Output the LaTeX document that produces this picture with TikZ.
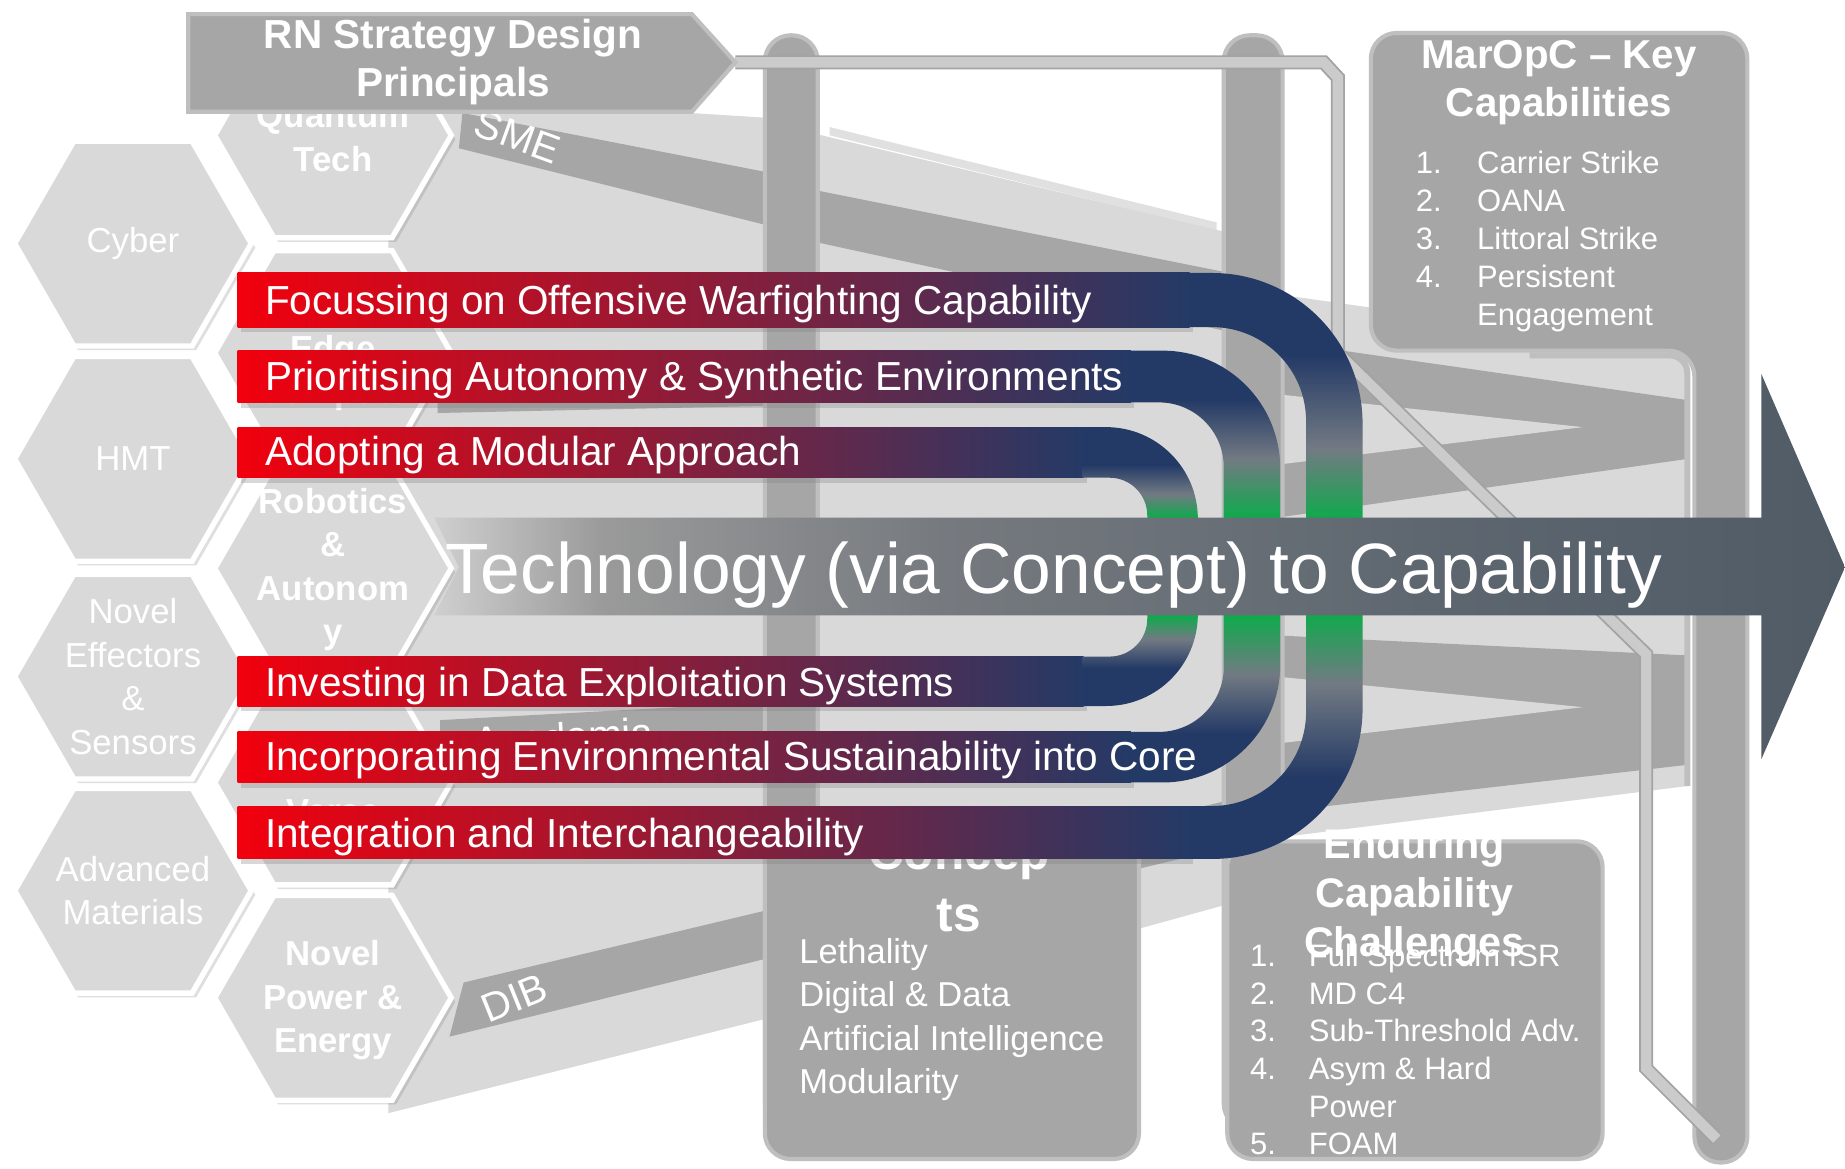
\documentclass[tikz,border=0pt]{standalone}
\usepackage{fontspec}
\setmainfont{Liberation Sans}
\usetikzlibrary{shapes.geometric,shadows}

\definecolor{hexgray}{HTML}{D9D9D9}
\definecolor{funnellight}{HTML}{D9D9D9}
\definecolor{funneldark}{HTML}{A6A6A6}
\definecolor{boxgray}{HTML}{A6A6A6}
\definecolor{boxedge}{HTML}{BFBFBF}
\definecolor{linegray}{HTML}{CBCBCB}
\definecolor{lineedge}{HTML}{A3A3A3}
\definecolor{bandred}{HTML}{F2000D}
\definecolor{bandcrimson}{HTML}{9A1A30}
\definecolor{bandnavy}{HTML}{243A66}
\definecolor{bandslate}{HTML}{727A83}
\definecolor{bandgreen}{HTML}{0FAA4C}
\definecolor{arrowlight}{HTML}{CFCFCF}
\definecolor{arrowmid}{HTML}{9A9A9A}
\definecolor{arrowgrey}{HTML}{767A7F}
\definecolor{arrowslate}{HTML}{5E6770}
\definecolor{arrowdark}{HTML}{505B66}

% colour runs of the three loops (navy - slate - green - slate - navy)
\pgfdeclareverticalshading{outerloop}{100bp}{color(0bp)=(bandnavy); color(25bp)=(bandnavy); color(32bp)=(bandnavy); color(40bp)=(bandslate); color(46bp)=(bandgreen); color(54bp)=(bandgreen); color(60bp)=(bandslate); color(68bp)=(bandnavy); color(75bp)=(bandnavy); color(100bp)=(bandnavy)}
\pgfdeclareverticalshading{midloop}{100bp}{color(0bp)=(bandnavy); color(25bp)=(bandnavy); color(30.7bp)=(bandnavy); color(37.5bp)=(bandslate); color(44.3bp)=(bandgreen); color(55.7bp)=(bandgreen); color(62.5bp)=(bandslate); color(69.3bp)=(bandnavy); color(75bp)=(bandnavy); color(100bp)=(bandnavy)}
\pgfdeclareverticalshading{innerloop}{100bp}{color(0bp)=(bandnavy); color(25bp)=(bandnavy); color(31.8bp)=(bandnavy); color(37bp)=(bandslate); color(41.2bp)=(bandgreen); color(58.8bp)=(bandgreen); color(63bp)=(bandslate); color(68.2bp)=(bandnavy); color(75bp)=(bandnavy); color(100bp)=(bandnavy)}
\pgfdeclarehorizontalshading{techarrow}{100bp}{color(0bp)=(arrowlight); color(25bp)=(arrowlight); color(31bp)=(arrowmid); color(43bp)=(arrowgrey); color(60bp)=(arrowslate); color(75bp)=(arrowdark); color(100bp)=(arrowdark)}

\tikzset{
  hexcell/.style={regular polygon, regular polygon sides=6, minimum size=4.02cm, inner sep=0pt,
    fill=hexgray, draw=white, line width=2.6pt,
    drop shadow={opacity=0.25, shadow xshift=2pt, shadow yshift=-2pt}},
  hexlabel/.style={text=white, align=center, font=\fontsize{16.8}{21}\selectfont},
  hexlabelb/.style={hexlabel, font=\fontsize{16.8}{21}\selectfont\bfseries},
  greybox/.style={fill=boxgray, draw=boxedge, line width=2pt, rounded corners=0.44cm},
  streamlabel/.style={text=white, font=\fontsize{19.5}{23}\selectfont},
  boxtitle/.style={text=white, align=center, font=\fontsize{19.5}{23.3}\selectfont\bfseries},
  listitem/.style={text=white, anchor=base west, inner sep=0pt, font=\fontsize{15}{18}\selectfont},
  conceptitem/.style={listitem, font=\fontsize{16.7}{20}\selectfont},
  bandlabel/.style={text=white, anchor=base west, inner sep=0pt, font=\fontsize{19.6}{23}\selectfont},
  bandshadow/.style={drop shadow={opacity=0.3, shadow xshift=1.5pt, shadow yshift=-2.5pt}},
  linkline/.style={draw=lineedge, line width=0.9pt, double=linegray, double distance=5pt}
}

\begin{document}
\begin{tikzpicture}[x=0.02cm, y=-0.02cm]
\useasboundingbox (0,0) rectangle (1568,993);
\fill[white] (0,0) rectangle (1568,993);

% funnel of streams
\fill[funnellight] (330,80) -- (650,100) -- (650,866) -- (330,946) -- cycle;
\fill[black!12] (705,108) -- (1034,189) -- (1034,196) -- (705,115) -- cycle;
\fill[funnellight] (690,113) -- (1045,198) -- (1045,768) -- (690,866) -- cycle;
\fill[funnellight] (1085,250) -- (1434,300) -- (1434,668) -- (1085,712) -- cycle;
\fill[funneldark] (393,96) -- (650,146) -- (650,191) -- (390,126) -- cycle;
\fill[funneldark] (372,342) -- (650,342) -- (650,345) -- (372,351) -- cycle;
\fill[funneldark] (374,612) -- (650,597) -- (650,622) -- (374,640) -- cycle;
\fill[funneldark] (394,835) -- (650,774) -- (650,815) -- (382,881) -- cycle;
\fill[funneldark] (690,161) -- (1045,232) -- (1045,282) -- (690,205) -- cycle;
\fill[funneldark] (690,763) -- (1045,680) -- (1045,720) -- (690,804) -- cycle;
\fill[funneldark] (1085,290) -- (1434,340) -- (1434,390) -- (1085,440) -- cycle;
\fill[funnellight] (1085,335) -- (1345,363) -- (1085,395) -- cycle;
\fill[funneldark] (1085,540) -- (1434,557) -- (1434,650) -- (1085,690) -- cycle;
\fill[funnellight] (1085,575) -- (1345,601) -- (1085,632) -- cycle;
\draw[boxedge, line width=3pt, rounded corners=0.3cm] (1300,302) -- (1434,302) -- (1434,668);

\node[streamlabel, rotate=-20] (sme) at (440,116) {SME};
\node[streamlabel, rotate=3] (acad) at (479,626) {Academia};
\node[streamlabel, rotate=22] (dib) at (437,848) {DIB};

% pillars
\draw[greybox] (650,30) rectangle (695,960);
\draw[greybox] (1040,30) rectangle (1090,960);
\draw[greybox] (1165,28) -- (1485,28) -- (1485,988) -- (1440,988) -- (1440,298) -- (1165,298) -- cycle;

\node[boxtitle] (mo-title) at (1325,70) {MarOpC -- Key\\Capabilities};
\foreach \txt [count=\i] in {Carrier Strike, OANA, Littoral Strike, Persistent, Engagement}
  \node[listitem] (mo-\i) at (1255,{147.5+32.2*(\i-1)}) {\txt};
\foreach \i in {1,...,4}
  \node[listitem] (mo-n\i) at (1203,{147.5+32.2*(\i-1)}) {\i.};

% link from the principles to the capabilities
\coordinate (hdr-tip) at (625,53);
\coordinate (cap-foot) at (1459,968);
\draw[linkline] (hdr-tip) -- (1125,53) -- (1137,66) -- (1137,300) -- (1399,556) -- (1399,908) -- (cap-foot);

% technology hexagons
\node[hexcell] (cyber) at (113,207) {};
\node[hexcell] (hmt) at (113,390) {};
\node[hexcell] (nes) at (113,575) {};
\node[hexcell] (advmat) at (113,757) {};
\node[hexcell] (quantum) at (283,115) {};
\node[hexcell] (edge) at (283,300) {};
\node[hexcell] (robot) at (283,483) {};
\node[hexcell] (verse) at (283,665) {};
\node[hexcell] (power) at (283,848) {};

\node[hexlabel] (cyber-t) at (cyber) {Cyber};
\node[hexlabel] (hmt-t) at (hmt) {HMT};
\node[hexlabel] (nes-t) at (nes) {Novel\\Effectors\\\&\\Sensors};
\node[hexlabel] (advmat-t) at (advmat) {Advanced\\Materials};
\node[hexlabelb] (quantum-t) at (283,117) {Quantum\\Tech};
\node[hexlabelb] (edge-t) at (283,317) {Edge\\Compute};
\node[hexlabelb] (robot-t) at (283,484) {Robotics\\\&\\Autonom\\y};
\node[hexlabelb] (verse-t) at (283,690) {Verse};
\node[hexlabelb] (power-t) at (283,850) {Novel\\Power \&\\Energy};

% principles header
\draw[fill=boxgray, draw=boxedge, line width=2pt] (160,12) -- (588,12) -- (hdr-tip) -- (588,95) -- (160,95) -- cycle;
\node[boxtitle, font=\fontsize{19.6}{23.3}\selectfont\bfseries] (hdr) at (385,53) {RN Strategy Design\\Principals};

% concept and challenge boxes
\draw[greybox] (650,700) rectangle (968,985);
\node[boxtitle, font=\fontsize{24}{30}\selectfont\bfseries] (cc-title) at (815,751) {Concep\\ts};
\foreach \txt [count=\i] in {Lethality, Digital \& Data, Artificial Intelligence, Modularity}
  \node[conceptitem] (cc-\i) at (679,{818.5+37*(\i-1)}) {\txt};

\draw[greybox] (1043,715) rectangle (1362,985);

% design principle loops
\foreach \ya/\yb/\yc/\yd/\xo/\xi/\ro/\ri/\xj/\shd in
  {363/406/558/600/1018/975/1.56cm/0.64cm/920/innerloop,
   298/342/622/665/1088/1040/2.0cm/1.1cm/960/midloop,
   232/278/685/730/1158/1110/2.56cm/1.6cm/1010/outerloop}{
  \shade[left color=bandred, middle color=bandcrimson, right color=bandnavy, bandshadow] (202,\ya) rectangle ({\xj+1},\yb);
  \shade[left color=bandred, middle color=bandcrimson, right color=bandnavy, bandshadow] (202,\yc) rectangle ({\xj+1},\yd);
  \begin{scope}
    \clip (\xj,0) rectangle (1568,993);
    \shade[shading=\shd, even odd rule, rounded corners=\ro] ({\xj-300},\ya) rectangle (\xo,\yd)
      [rounded corners=\ri] ({\xj-300},\yb) rectangle (\xi,\yc);
  \end{scope}
}

\node[bandlabel] (p1) at (225,267) {Focussing on Offensive Warfighting Capability};
\node[bandlabel] (p2) at (225,332) {Prioritising Autonomy \& Synthetic Environments};
\node[bandlabel] (p3) at (225,396) {Adopting a Modular Approach};
\node[bandlabel] (p4) at (225,592) {Investing in Data Exploitation Systems};
\node[bandlabel] (p5) at (225,655) {Incorporating Environmental Sustainability into Core};
\node[bandlabel] (p6) at (225,720) {Integration and Interchangeability};

% enduring challenges text
\node[boxtitle, font=\fontsize{20}{23.6}\selectfont\bfseries] (ec-title) at (1202,762) {Enduring\\Capability\\Challenges};
\foreach \txt [count=\i] in {Full Spectrum ISR, MD C4, Sub-Threshold Adv., Asym \& Hard, Power, FOAM}
  \node[listitem] (ec-\i) at (1112,{821.5+32*(\i-1)}) {\txt};
\foreach \n/\row in {1/1,2/2,3/3,4/4,5/6}
  \node[listitem] (ec-n\n) at (1062,{821.5+32*(\row-1)}) {\n.};

% technology to capability arrow
\shade[shading=techarrow] (369,440) -- (1497,440) -- (1497,318) -- (1568,482) -- (1497,645) -- (1497,523) -- (369,523) -- (390,482) -- cycle;
\node[text=white, anchor=base west, inner sep=0pt, font=\fontsize{34.5}{40}\selectfont] (tech) at (378,504) {Technology (via Concept) to Capability};
\end{tikzpicture}
\end{document}
